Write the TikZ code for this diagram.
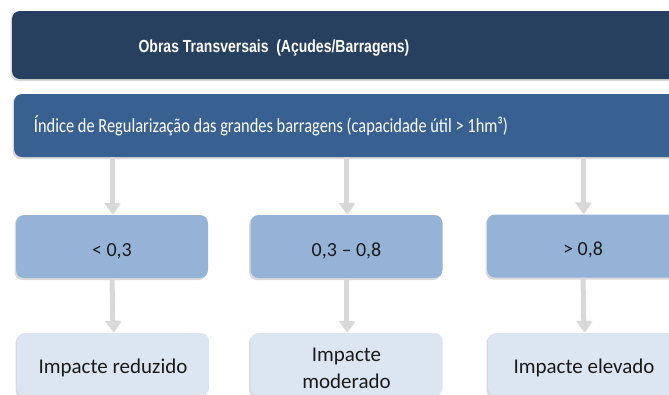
\documentclass[tikz,border=0pt]{standalone}
\usepackage{fontspec}
\setmainfont{Carlito}
\newfontfamily\headfont[FakeStretch=0.8]{Liberation Sans}
\newfontfamily\indexfont[FakeStretch=0.82]{Carlito}
\usetikzlibrary{shadows, arrows.meta}

\definecolor{navy}{RGB}{40,64,96}
\definecolor{steel}{RGB}{56,97,145}
\definecolor{sky}{RGB}{149,179,215}
\definecolor{pale}{RGB}{220,230,242}
\definecolor{arrowgray}{RGB}{216,216,216}
\definecolor{ink}{RGB}{26,26,26}

\begin{document}
\begin{tikzpicture}[x=1pt, y=-1pt,
    box/.style={rounded corners=8pt, inner sep=0pt, minimum height=63pt,
      drop shadow={shadow xshift=-1.5pt, shadow yshift=-2pt, opacity=0.3}},
    classbox/.style={box, fill=sky, minimum width=192pt, text=ink, text height=19pt, text depth=0pt,
      font=\fontsize{20}{24}\selectfont},
    resultbox/.style={box, fill=pale, minimum width=192pt, text=ink, text height=18.4pt, text depth=0pt,
      font=\fontsize{21}{27}\selectfont},
    arr/.style={arrowgray, line width=5pt, -{Triangle[width=15pt, length=11pt]}, shorten >=1pt,
      preaction={draw=black, opacity=0.12, transform canvas={shift={(1pt,-1pt)}}}}]
  \useasboundingbox (0,0) rectangle (669,394);
  \clip (0,0) rectangle (669,394);

  % Header boxes
  \node[box, fill=navy, minimum width=678pt, minimum height=68pt] (obras) at (351,45) {};
  \node[text=white, text height=14pt, text depth=0pt, font=\headfont\bfseries\fontsize{17.5}{20}\selectfont]
    (obrastxt) at (274,45) {Obras Transversais \ (Açudes/Barragens)};
  \node[box, fill=steel, minimum width=676pt] (indice) at (352,125.5) {};
  \node[text=white, text height=14.4pt, text depth=0pt, font=\indexfont\fontsize{20}{22}\selectfont]
    (indicetxt) at (271,125.5) {Índice de Regularização das grandes barragens (capacidade útil > 1hm³)};

  % Classes
  \node[classbox] (low) at (112,246.5) {< 0,3};
  \node[classbox] (mid) at (346.5,246.5) {0,3 – 0,8};
  \node[classbox] (high) at (583,246) {> 0,8};

  % Impactes
  \node[resultbox] (lowres) at (113,364.5) {Impacte reduzido};
  \node[resultbox, text height=13.5pt, text depth=20.5pt] (midres) at (346.5,364.5)
    {\begin{tabular}[t]{@{}c@{}}Impacte\\moderado\end{tabular}};
  \node[resultbox] (highres) at (584,364.5) {Impacte elevado};

  % Setas
  \draw[arr] (low.north |- indice.south) -- (low.north);
  \draw[arr] (mid.north |- indice.south) -- (mid.north);
  \draw[arr] (high.north |- indice.south) -- (high.north);
  \draw[arr] (low.south) -- (lowres.north);
  \draw[arr] (mid.south) -- (midres.north);
  \draw[arr] (high.south) -- (highres.north);
\end{tikzpicture}
\end{document}
